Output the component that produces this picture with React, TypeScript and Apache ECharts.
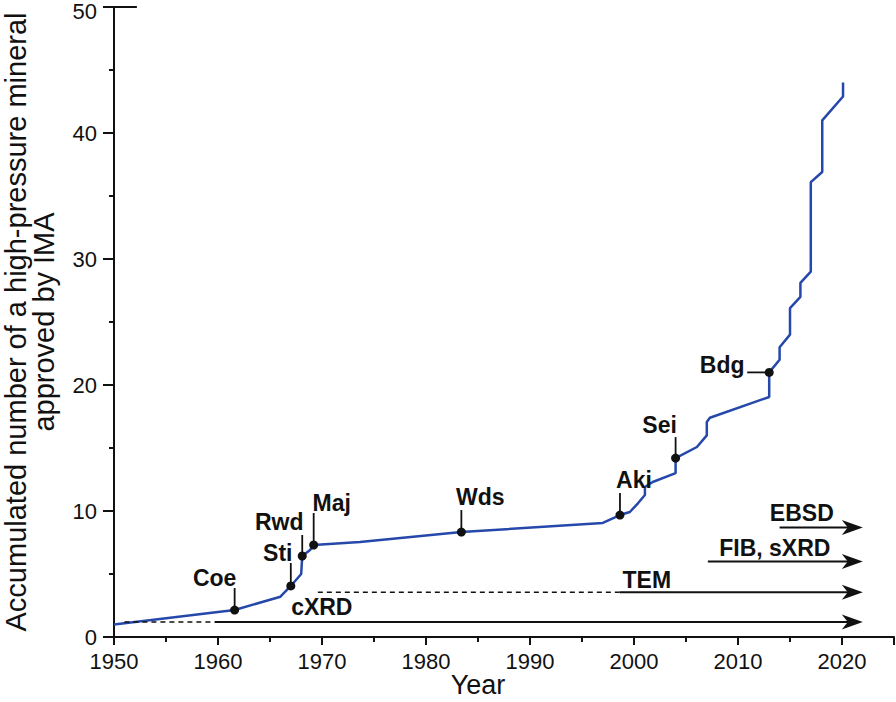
import React, { useEffect, useRef } from "react";
import * as echarts from "echarts";

// ---- data ----
const curveYears = [
  1950, 1961.6, 1966.0, 1967.0, 1968.0, 1968.1, 1968.85, 1969.2, 1973.65, 1983.4,
  1997.0, 1998.65, 1999.6, 2000.4, 2001.05, 2001.05, 2001.8, 2004.0, 2004.0, 2006.05,
  2007.0, 2007.0, 2007.3, 2013.0, 2013.0, 2014.0, 2014.0, 2015.0, 2015.0, 2016.0,
  2016.0, 2017.0, 2017.0, 2018.1, 2018.1, 2020.1, 2020.1,
];
const curveCounts = [
  1.0, 2.14, 3.2, 4.05, 5.0, 6.43, 6.9, 7.3, 7.54, 8.33,
  9.05, 9.68, 9.92, 10.63, 11.27, 11.9, 12.3, 13.0, 14.2, 15.08,
  16.0, 17.06, 17.4, 19.05, 21.0, 22.0, 23.0, 24.0, 26.1, 27.0,
  28.1, 29.0, 36.1, 36.9, 41.0, 42.9, 44.0,
];

const mineralNames = ["Coe", "Sti", "Rwd", "Maj", "Wds", "Aki", "Sei", "Bdg"];
const mineralYears = [1961.6, 1967.0, 1968.1, 1969.2, 1983.4, 1998.65, 2004.0, 2013.0];
const mineralCounts = [2.14, 4.05, 6.43, 7.3, 8.33, 9.68, 14.2, 21.0];

const methodNames = ["cXRD", "TEM", "FIB, sXRD", "EBSD"];
const methodLevels = [1.2, 3.55, 6.0, 8.7];
const methodDashStart: (number | null)[] = [1951.0, 1969.6, null, null];
const methodSolidStart = [1959.7, 1998.6, 2007.1, 2014.0];
const methodEnd = 2022.0;

const yAxisTitle = "Accumulated number of a high-pressure mineral\napproved by IMA";
const xAxisTitle = "Year";

// ---- styles ----
const FONT = '"Liberation Sans", Arial, Helvetica, sans-serif';
const INK = "#111111";
const BLUE = "#2548aa";

const mineralLayout = [
  { lx: 0, ly: -22, tx: -20, ty: -32 },
  { lx: 0, ly: -23, tx: -13, ty: -33 },
  { lx: 0, ly: -21, tx: -23, ty: -34 },
  { lx: 0, ly: -32, tx: 18, ty: -42 },
  { lx: 0, ly: -22, tx: 19, ty: -35 },
  { lx: 0, ly: -22, tx: 14, ty: -35 },
  { lx: 0, ly: -21, tx: -16, ty: -33 },
  { lx: -22, ly: 0, tx: -47, ty: -7 },
];
const methodLabelLayout = [
  { dx: -541, dy: -15 },
  { dx: -216, dy: -12 },
  { dx: -88, dy: -13 },
  { dx: -61, dy: -14 },
];

export default function App() {
  const ref = useRef<HTMLDivElement>(null);

  useEffect(() => {
    if (!ref.current) return;
    const chart = echarts.init(ref.current, undefined, { renderer: "svg" });

    const curveData = curveYears.map((y, i) => [y, curveCounts[i]]);
    const mineralData = mineralYears.map((y, i) => [y, mineralCounts[i], i]);
    const methodData = methodSolidStart.map((s, i) => [s, methodLevels[i], i]);

    const option: any = {
      animation: false,
      grid: {
        left: 114,
        right: 2,
        top: 7,
        bottom: 65,
        containLabel: false,
        outerBoundsMode: "none",
      },
      xAxis: {
        type: "value",
        min: 1950,
        max: 2025,
        interval: 10,
        name: xAxisTitle,
        nameLocation: "middle",
        nameGap: 34,
        nameMoveOverlap: false,
        nameTextStyle: {
          fontFamily: FONT,
          fontSize: 27,
          lineHeight: 28,
          color: INK,
          padding: [0, 52, 0, 0],
        },
        axisLine: { show: true, onZero: false, lineStyle: { color: INK, width: 2 } },
        axisTick: { show: true, length: 8, lineStyle: { color: INK, width: 2 } },
        minorTick: { show: true, splitNumber: 2, length: 5, lineStyle: { color: INK, width: 2 } },
        axisLabel: {
          margin: 13,
          fontFamily: FONT,
          fontSize: 22,
          color: INK,
          formatter: (v: number) => (v > 2020 ? "" : String(v)),
        },
        splitLine: { show: false },
        minorSplitLine: { show: false },
      },
      yAxis: {
        type: "value",
        min: 0,
        max: 50,
        interval: 10,
        name: yAxisTitle,
        nameLocation: "middle",
        nameGap: 56,
        nameMoveOverlap: false,
        nameRotate: 90,
        nameTextStyle: {
          fontFamily: FONT,
          fontSize: 29,
          lineHeight: 28,
          color: INK,
          align: "center",
        },
        axisLine: { show: true, lineStyle: { color: INK, width: 2 } },
        axisTick: { show: true, length: 11, lineStyle: { color: INK, width: 2 } },
        minorTick: { show: true, splitNumber: 2, length: 5, lineStyle: { color: INK, width: 2 } },
        axisLabel: {
          margin: 17,
          fontFamily: FONT,
          fontSize: 22,
          lineHeight: 14,
          color: INK,
          formatter: (v: number) => (v >= 50 ? "{top|" + v + "}" : String(v)),
          rich: {
            top: { fontFamily: FONT, fontSize: 22, lineHeight: 14, color: INK, padding: [8, 0, 0, 0] },
          },
        },
        splitLine: { show: false },
        minorSplitLine: { show: false },
      },
      series: [
        {
          type: "line",
          data: curveData,
          showSymbol: false,
          symbol: "none",
          lineStyle: { color: BLUE, width: 2.5 },
          z: 3,
          markLine: {
            silent: true,
            symbol: "none",
            label: { show: false },
            lineStyle: { color: INK, width: 2, type: "solid" },
            data: [[{ coord: [1950, 50] }, { coord: [1952.2, 50] }]],
          },
        },
        {
          type: "custom",
          clip: false,
          z: 4,
          data: methodData,
          renderItem: (params: any, api: any) => {
            const idx = api.value(2);
            const lvl = api.value(1);
            const s = api.coord([api.value(0), lvl]);
            const tip = api.coord([methodEnd, lvl]);
            const children: any[] = [];
            const ds = methodDashStart[idx];
            if (ds !== null) {
              const d = api.coord([ds, lvl]);
              children.push({
                type: "line",
                shape: { x1: d[0], y1: d[1], x2: s[0], y2: s[1] },
                style: { stroke: INK, lineWidth: 1.5, lineDash: [5, 4] },
              });
            }
            children.push({
              type: "line",
              shape: { x1: s[0], y1: s[1], x2: tip[0] - 14, y2: tip[1] },
              style: { stroke: INK, lineWidth: 2 },
            });
            children.push({
              type: "polygon",
              shape: {
                points: [
                  [tip[0], tip[1]],
                  [tip[0] - 21, tip[1] - 7.5],
                  [tip[0] - 15, tip[1]],
                  [tip[0] - 21, tip[1] + 7.5],
                ],
              },
              style: { fill: INK },
            });
            const L = methodLabelLayout[idx];
            children.push({
              type: "text",
              x: tip[0] + L.dx,
              y: tip[1] + L.dy,
              style: {
                text: methodNames[idx],
                fill: INK,
                fontFamily: FONT,
                fontSize: 23,
                fontWeight: "bold",
                align: "center",
                verticalAlign: "middle",
              },
            });
            return { type: "group", children };
          },
        },
        {
          type: "custom",
          clip: false,
          z: 5,
          data: mineralData,
          renderItem: (params: any, api: any) => {
            const idx = api.value(2);
            const p = api.coord([api.value(0), api.value(1)]);
            const L = mineralLayout[idx];
            return {
              type: "group",
              children: [
                {
                  type: "line",
                  shape: { x1: p[0], y1: p[1], x2: p[0] + L.lx, y2: p[1] + L.ly },
                  style: { stroke: INK, lineWidth: 1.8 },
                },
                {
                  type: "circle",
                  shape: { cx: p[0], cy: p[1], r: 4.5 },
                  style: { fill: INK },
                },
                {
                  type: "text",
                  x: p[0] + L.tx,
                  y: p[1] + L.ty,
                  style: {
                    text: mineralNames[idx],
                    fill: INK,
                    fontFamily: FONT,
                    fontSize: 23,
                    fontWeight: "bold",
                    align: "center",
                    verticalAlign: "middle",
                  },
                },
              ],
            };
          },
        },
      ],
    };

    chart.setOption(option);
    return () => chart.dispose();
  }, []);

  return (
    <div
      ref={ref}
      style={{ position: "absolute", left: 0, top: 0, width: 896, height: 702, background: "#fff" }}
    />
  );
}
